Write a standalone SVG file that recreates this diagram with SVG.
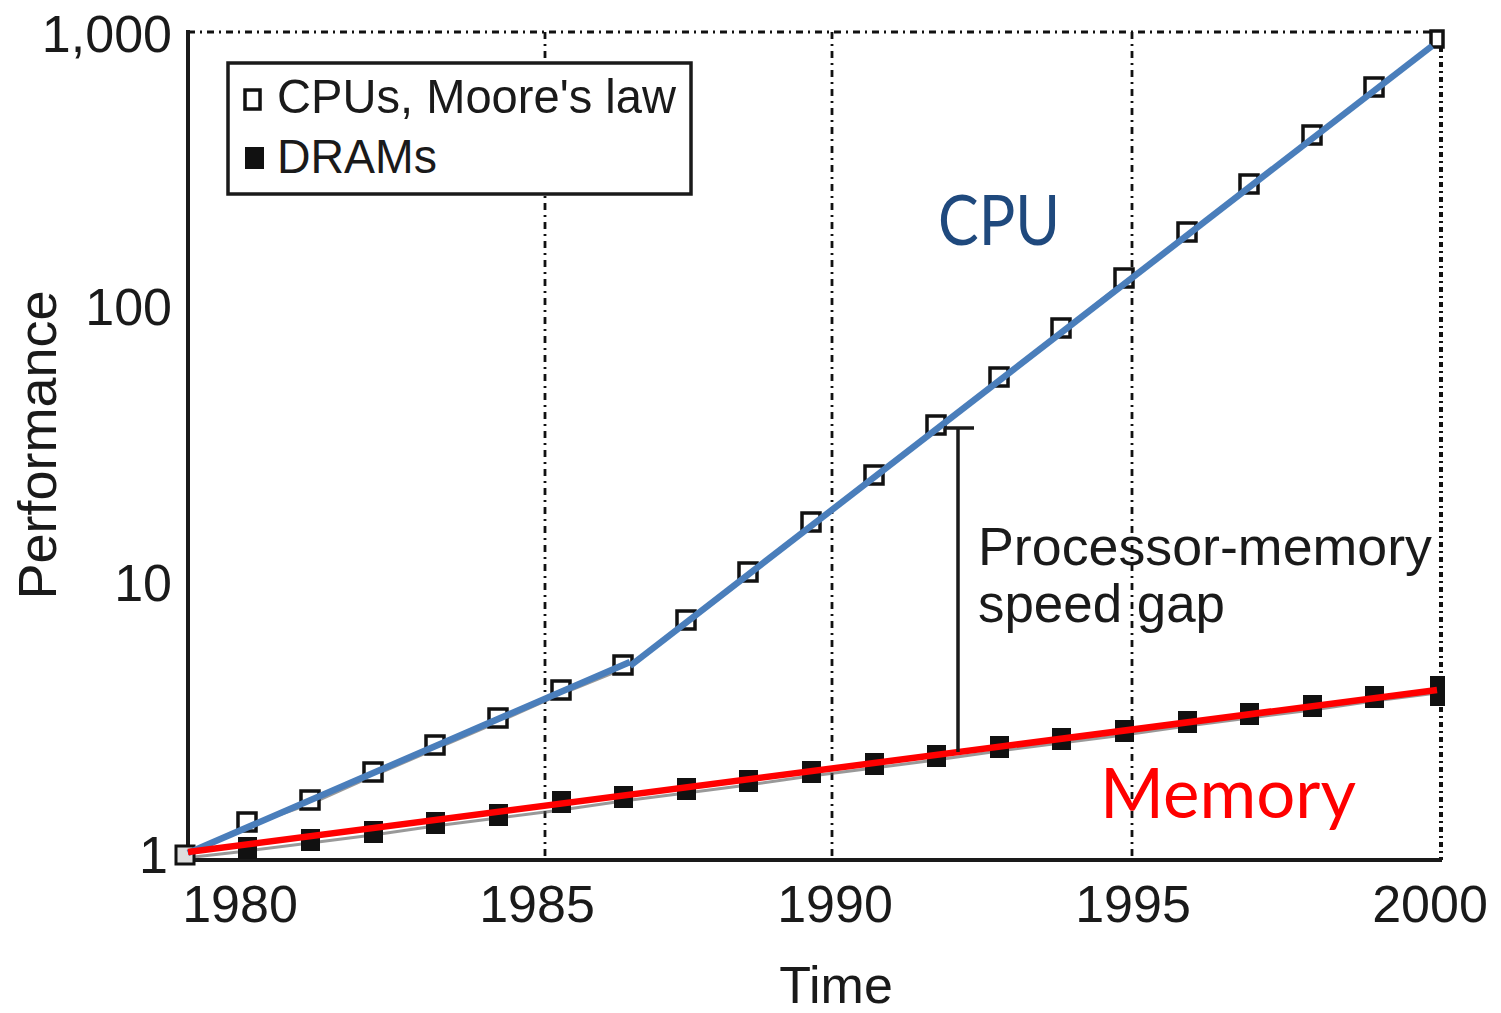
<svg xmlns="http://www.w3.org/2000/svg" width="1501" height="1013" viewBox="0 0 1501 1013">
<style>
.ax{font-family:"Liberation Sans",Arial,sans-serif;font-size:52px;fill:#1a1a1a}
.grid{stroke:#111;stroke-width:2.8;stroke-dasharray:7 5 2 5;fill:none}
.hol{fill:#fff;stroke:#111;stroke-width:3.5}
.fil{fill:#111;stroke:#111;stroke-width:2}
.shadow{fill:none;stroke:#555;stroke-width:3;stroke-opacity:0.6}
.lab{font-family:Lato,"Noto Sans",sans-serif;font-size:70px}
</style>
<rect width="1501" height="1013" fill="#fff"/>
<g id="axes">
<line class="grid" x1="188" y1="32" x2="1441" y2="32"/>
<line class="grid" x1="545" y1="32" x2="545" y2="860"/>
<line class="grid" x1="832" y1="32" x2="832" y2="860"/>
<line class="grid" x1="1132" y1="32" x2="1132" y2="860"/>
<line class="grid" x1="1441" y1="32" x2="1441" y2="860" style="stroke-width:4;stroke-dasharray:5 4 2 4"/>
<line x1="188" y1="30" x2="188" y2="861" stroke="#1a1a1a" stroke-width="4"/>
<line x1="186" y1="860" x2="1442" y2="860" stroke="#1a1a1a" stroke-width="4"/>
<text class="ax" x="172" y="52" text-anchor="end">1,000</text>
<text class="ax" x="172" y="325" text-anchor="end">100</text>
<text class="ax" x="172" y="601" text-anchor="end">10</text>
<text class="ax" x="168" y="873" text-anchor="end">1</text>
<text class="ax" x="240" y="922" text-anchor="middle">1980</text>
<text class="ax" x="537" y="922" text-anchor="middle">1985</text>
<text class="ax" x="835" y="922" text-anchor="middle">1990</text>
<text class="ax" x="1133" y="922" text-anchor="middle">1995</text>
<text class="ax" x="1430" y="922" text-anchor="middle">2000</text>
<text class="ax" x="836" y="1003" text-anchor="middle">Time</text>
<text class="ax" transform="translate(56,445) rotate(-90)" text-anchor="middle" style="font-size:54px">Performance</text>
</g>
<g id="legend">
<rect x="228" y="63" width="463" height="131" fill="#fff" stroke="#1a1a1a" stroke-width="3.5"/>
<rect class="hol" x="245" y="90" width="15" height="19"/>
<text class="ax" x="277" y="113" textLength="399" lengthAdjust="spacingAndGlyphs" style="font-size:49px">CPUs, Moore's law</text>
<rect class="fil" x="246" y="148" width="17" height="20"/>
<text class="ax" x="277" y="173" textLength="160" lengthAdjust="spacingAndGlyphs" style="font-size:49px">DRAMs</text>
</g>
<g id="connectors">
<polyline class="shadow" points="185,858 247,826 310,804 373,776 435,749 498,722 561,694 623,669 686,624 748,576 811,526 874,479 936,429 999,381 1061,332 1124,282 1187,236 1249,188 1312,139 1374,91 1437,42"/>
<polyline class="shadow" points="185,858 247,851 310,843 373,835 435,826 498,818 561,810 623,801 686,793 748,785 811,776 874,768 936,760 999,751 1061,743 1124,735 1187,726 1249,718 1312,710 1374,701 1437,693"/>
</g>
<g id="cpu-markers">
<rect x="176" y="846" width="18" height="18" fill="#ddd" stroke="#111" stroke-width="3"/>
<rect class="hol" x="238" y="813" width="18" height="18"/>
<rect class="hol" x="301" y="791" width="18" height="18"/>
<rect class="hol" x="364" y="763" width="18" height="18"/>
<rect class="hol" x="426" y="736" width="18" height="18"/>
<rect class="hol" x="489" y="709" width="18" height="18"/>
<rect class="hol" x="552" y="681" width="18" height="18"/>
<rect class="hol" x="614" y="656" width="18" height="18"/>
<rect class="hol" x="677" y="611" width="18" height="18"/>
<rect class="hol" x="739" y="563" width="18" height="18"/>
<rect class="hol" x="802" y="513" width="18" height="18"/>
<rect class="hol" x="865" y="466" width="18" height="18"/>
<rect class="hol" x="927" y="416" width="18" height="18"/>
<rect class="hol" x="990" y="368" width="18" height="18"/>
<rect class="hol" x="1052" y="319" width="18" height="18"/>
<rect class="hol" x="1115" y="269" width="18" height="18"/>
<rect class="hol" x="1178" y="223" width="18" height="18"/>
<rect class="hol" x="1240" y="175" width="18" height="18"/>
<rect class="hol" x="1303" y="126" width="18" height="18"/>
<rect class="hol" x="1365" y="78" width="18" height="18"/>
<rect class="hol" x="1431" y="31" width="12" height="16"/>
</g>
<g id="dram-markers">
<rect class="fil" x="239" y="838" width="17" height="20"/>
<rect class="fil" x="302" y="830" width="17" height="20"/>
<rect class="fil" x="365" y="822" width="17" height="20"/>
<rect class="fil" x="427" y="813" width="17" height="20"/>
<rect class="fil" x="490" y="805" width="17" height="20"/>
<rect class="fil" x="553" y="792" width="17" height="20"/>
<rect class="fil" x="615" y="787" width="17" height="20"/>
<rect class="fil" x="678" y="779" width="17" height="20"/>
<rect class="fil" x="740" y="771" width="17" height="20"/>
<rect class="fil" x="803" y="762" width="17" height="20"/>
<rect class="fil" x="866" y="754" width="17" height="20"/>
<rect class="fil" x="928" y="746" width="17" height="20"/>
<rect class="fil" x="991" y="737" width="17" height="20"/>
<rect class="fil" x="1053" y="729" width="17" height="20"/>
<rect class="fil" x="1116" y="721" width="17" height="20"/>
<rect class="fil" x="1179" y="712" width="17" height="20"/>
<rect class="fil" x="1241" y="704" width="17" height="20"/>
<rect class="fil" x="1304" y="696" width="17" height="20"/>
<rect class="fil" x="1366" y="687" width="17" height="20"/>
<rect class="fil" x="1431" y="677" width="13" height="28"/>
</g>
<g id="trend-lines">
<polyline points="188,853 630,662" fill="none" stroke="#4A7EBB" stroke-width="6.5"/>
<polyline points="630,666 1432,46" fill="none" stroke="#4A7EBB" stroke-width="6.5"/>
<line x1="188" y1="852" x2="1437" y2="690" stroke="#FF0000" stroke-width="6.5"/>
</g>
<g id="gap">
<line x1="958" y1="428" x2="958" y2="752" stroke="#1a1a1a" stroke-width="3.5"/>
<line x1="944" y1="428" x2="974" y2="428" stroke="#1a1a1a" stroke-width="3.5"/>
<text class="ax" x="978" y="565" textLength="454" lengthAdjust="spacingAndGlyphs" style="font-size:54px">Processor-memory</text>
<text class="ax" x="978" y="622" textLength="247" lengthAdjust="spacingAndGlyphs" style="font-size:54px">speed gap</text>
</g>
<g id="labels">
<text class="lab" x="938" y="245" fill="#1F497D" textLength="122" lengthAdjust="spacingAndGlyphs">CPU</text>
<text class="lab" x="1100" y="818" fill="#FF0000" textLength="256" lengthAdjust="spacingAndGlyphs">Memory</text>
</g>
</svg>
